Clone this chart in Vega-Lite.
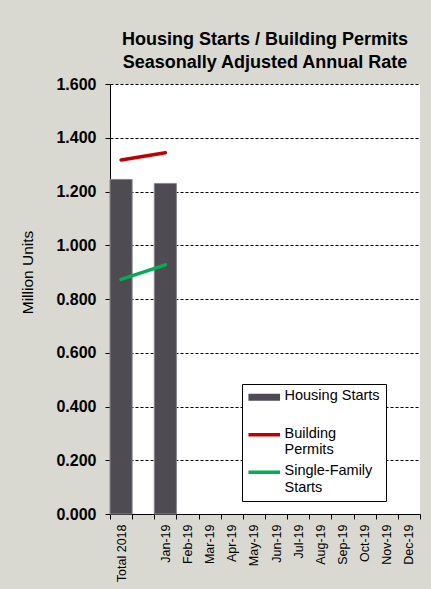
{
  "$schema": "https://vega.github.io/schema/vega-lite/v6.json",
  "width": 310,
  "height": 430,
  "autosize": {"type": "none"},
  "padding": {"left": 110, "top": 84, "right": 11, "bottom": 75},
  "background": "#d9d9d1",
  "title": {
    "text": ["Housing Starts / Building Permits", "Seasonally Adjusted Annual Rate"],
    "font": "Liberation Sans",
    "fontSize": 18,
    "fontWeight": "bold",
    "color": "#000000",
    "anchor": "middle",
    "frame": "group",
    "lineHeight": 23,
    "offset": 4
  },
  "data": {
    "values": [
      {"cat": "Total 2018", "series": "Housing Starts", "value": 1.245},
      {"cat": "Jan-19", "series": "Housing Starts", "value": 1.230},
      {"cat": "Total 2018", "series": "Building Permits", "value": 1.317},
      {"cat": "Jan-19", "series": "Building Permits", "value": 1.344},
      {"cat": "Total 2018", "series": "Single-Family Starts", "value": 0.873},
      {"cat": "Jan-19", "series": "Single-Family Starts", "value": 0.927}
    ]
  },
  "encoding": {
    "x": {
      "field": "cat",
      "type": "nominal",
      "sort": null,
      "scale": {
        "domain": ["Total 2018", " ", "Jan-19", "Feb-19", "Mar-19", "Apr-19", "May-19", "Jun-19", "Jul-19", "Aug-19", "Sep-19", "Oct-19", "Nov-19", "Dec-19"],
        "paddingInner": 0,
        "paddingOuter": 0
      },
      "axis": {
        "title": null,
        "labelAngle": -90,
        "labelFontSize": 12.5,
        "labelColor": "#000000",
        "labelPadding": 5,
        "tickBand": "extent",
        "tickColor": "#000000",
        "tickSize": 5,
        "domainColor": "#000000",
        "labelAlign": "right",
        "labelBaseline": "middle"
      }
    },
    "y": {
      "field": "value",
      "type": "quantitative",
      "scale": {"domain": [0, 1.6], "nice": false},
      "axis": {
        "title": "Million Units",
        "titleFontSize": 15.5,
        "titleFontWeight": "normal",
        "titleColor": "#000000",
        "titleX": -75,
        "titleY": 188,
        "values": [0, 0.2, 0.4, 0.6, 0.8, 1.0, 1.2, 1.4, 1.6],
        "format": ".3f",
        "labelFontSize": 16,
        "labelFontWeight": "bold",
        "labelColor": "#000000",
        "labelPadding": 9,
        "tickColor": "#000000",
        "tickSize": 5,
        "domainColor": "#000000",
        "grid": true,
        "gridColor": "#000000",
        "gridDash": [3, 2],
        "gridOpacity": 1
      }
    }
  },
  "layer": [
    {
      "transform": [{"filter": "datum.series == 'Housing Starts'"}],
      "mark": {"type": "bar", "stroke": "#8a878c", "strokeWidth": 1},
      "encoding": {
        "color": {
          "field": "series",
          "type": "nominal",
          "scale": {
            "domain": ["Housing Starts", "Building Permits", "Single-Family Starts"],
            "range": ["#4f4b52", "#c00000", "#00b050"]
          },
          "legend": {
            "title": null,
            "orient": "none",
            "legendX": 132,
            "legendY": 300,
            "fillColor": "#ffffff",
            "strokeColor": "#000000",
            "padding": 6,
            "symbolType": "stroke",
            "symbolSize": 1000,
            "symbolStrokeWidth": 3.5,
            "symbolOffset": 9,
            "labelFontSize": 14.5,
            "labelColor": "#000000",
            "labelOffset": 13,
            "rowPadding": 5.5,
            "labelBaseline": "top",
            "labelExpr": "datum.label == 'Building Permits' ? ['Building', 'Permits'] : datum.label == 'Single-Family Starts' ? ['Single-Family', 'Starts'] : [datum.label, '']",
            "encode": {
              "labels": {"update": {"dy": {"value": -8}}},
              "symbols": {"update": {"strokeWidth": {"signal": "datum.value == 'Housing Starts' ? 7 : 3.5"}, "strokeCap": {"value": "butt"}}}
            }
          }
        }
      }
    },
    {
      "transform": [{"filter": "datum.series != 'Housing Starts'"}],
      "mark": {"type": "line", "strokeWidth": 3.5, "strokeCap": "round"},
      "encoding": {
        "color": {
          "field": "series",
          "type": "nominal",
          "scale": {
            "domain": ["Housing Starts", "Building Permits", "Single-Family Starts"],
            "range": ["#4f4b52", "#c00000", "#00b050"]
          },
          "legend": {
            "title": null,
            "orient": "none",
            "legendX": 132,
            "legendY": 300,
            "fillColor": "#ffffff",
            "strokeColor": "#000000",
            "padding": 6,
            "symbolType": "stroke",
            "symbolSize": 1000,
            "symbolStrokeWidth": 3.5,
            "symbolOffset": 9,
            "labelFontSize": 14.5,
            "labelColor": "#000000",
            "labelOffset": 13,
            "rowPadding": 5.5,
            "labelBaseline": "top",
            "labelExpr": "datum.label == 'Building Permits' ? ['Building', 'Permits'] : datum.label == 'Single-Family Starts' ? ['Single-Family', 'Starts'] : [datum.label, '']",
            "encode": {
              "labels": {"update": {"dy": {"value": -8}}},
              "symbols": {"update": {"strokeWidth": {"signal": "datum.value == 'Housing Starts' ? 7 : 3.5"}, "strokeCap": {"value": "butt"}}}
            }
          }
        }
      }
    }
  ],
  "resolve": {"scale": {"color": "shared"}, "legend": {"color": "shared"}},
  "config": {
    "view": {"fill": "#ffffff", "stroke": null},
    "font": "Liberation Sans"
  }
}
